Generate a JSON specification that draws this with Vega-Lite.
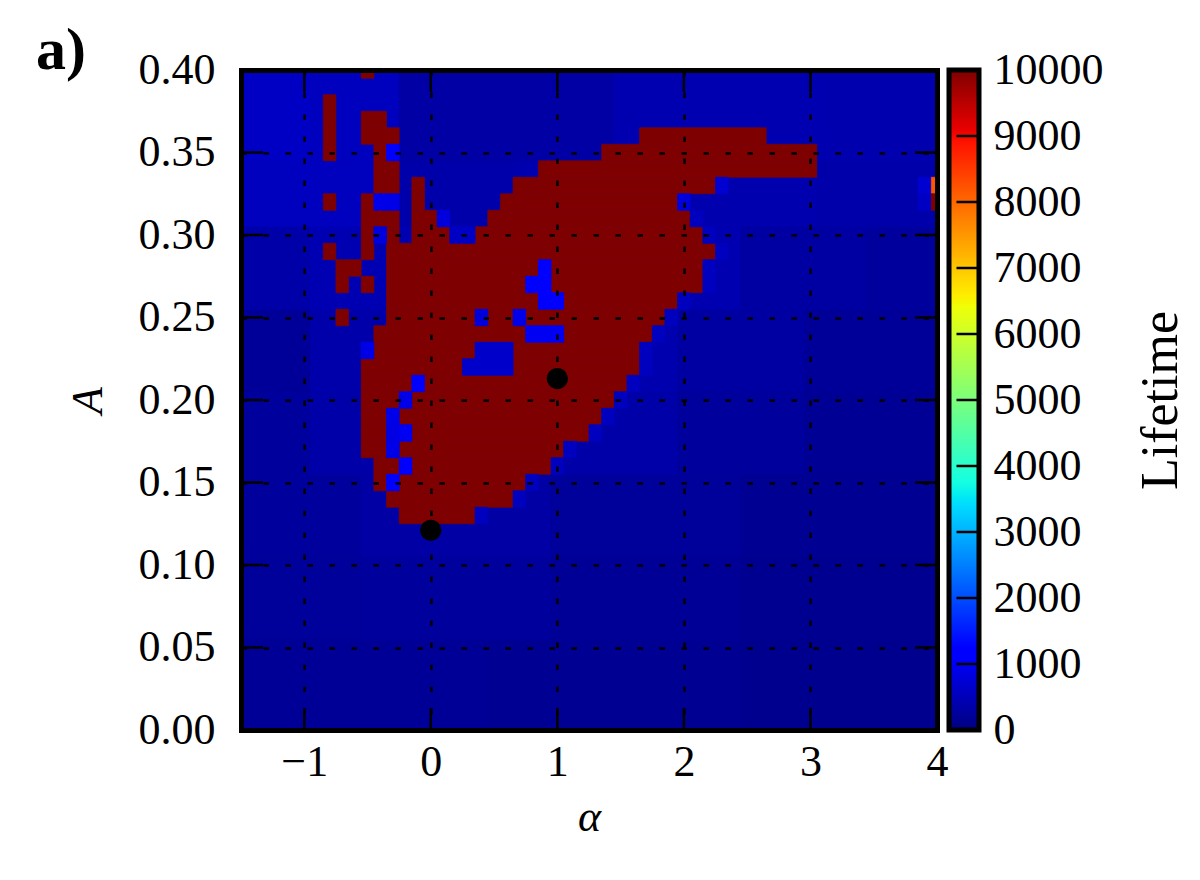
{
  "$schema": "https://vega.github.io/schema/vega-lite/v6.json",
  "background": "white",
  "padding": {"left": 36, "top": 21, "right": 0, "bottom": 0},
  "config": {
    "font": "Liberation Serif",
    "view": {"stroke": null},
    "axis": {"labelFont": "Liberation Serif", "titleFont": "Liberation Serif", "labelColor": "black", "titleColor": "black", "labelFlush": false, "labelOverlap": false, "titleFontWeight": "normal"}
  },
  "title": {"text": "a)", "anchor": "start", "frame": "bounds", "orient": "top", "baseline": "alphabetic", "fontSize": 60, "fontWeight": "bold", "font": "Liberation Serif", "color": "black", "offset": -60, "dx": -30, "dy": 21},
  "datasets": {
    "bg": [
      {"a0": -1.5, "a1": 4, "A0": 0, "A1": 0.4, "v": 250},
      {"a0": -1.5, "a1": 0.45, "A0": 0, "A1": 0.055, "v": 200},
      {"a0": 0.45, "a1": 2.45, "A0": 0, "A1": 0.055, "v": 170},
      {"a0": 2.45, "a1": 4, "A0": 0, "A1": 0.055, "v": 130},
      {"a0": -1.5, "a1": -0.55, "A0": 0.055, "A1": 0.105, "v": 230},
      {"a0": -0.55, "a1": 0.95, "A0": 0.055, "A1": 0.105, "v": 260},
      {"a0": 0.95, "a1": 2.45, "A0": 0.055, "A1": 0.105, "v": 200},
      {"a0": 2.45, "a1": 4, "A0": 0.055, "A1": 0.105, "v": 150},
      {"a0": -1.5, "a1": -0.55, "A0": 0.105, "A1": 0.155, "v": 260},
      {"a0": -0.55, "a1": 0.95, "A0": 0.105, "A1": 0.155, "v": 330},
      {"a0": 0.95, "a1": 2.45, "A0": 0.105, "A1": 0.155, "v": 230},
      {"a0": 2.45, "a1": 4, "A0": 0.105, "A1": 0.155, "v": 170},
      {"a0": -1.5, "a1": -0.95, "A0": 0.155, "A1": 0.205, "v": 250},
      {"a0": -0.95, "a1": -0.35, "A0": 0.155, "A1": 0.205, "v": 350},
      {"a0": -0.35, "a1": 0.95, "A0": 0.155, "A1": 0.205, "v": 380},
      {"a0": 0.95, "a1": 1.95, "A0": 0.155, "A1": 0.205, "v": 350},
      {"a0": 1.95, "a1": 2.95, "A0": 0.155, "A1": 0.205, "v": 250},
      {"a0": 2.95, "a1": 4, "A0": 0.155, "A1": 0.205, "v": 190},
      {"a0": -1.5, "a1": -0.95, "A0": 0.205, "A1": 0.255, "v": 220},
      {"a0": -0.95, "a1": -0.35, "A0": 0.205, "A1": 0.255, "v": 380},
      {"a0": -0.35, "a1": 1.95, "A0": 0.205, "A1": 0.255, "v": 400},
      {"a0": 1.95, "a1": 2.95, "A0": 0.205, "A1": 0.255, "v": 300},
      {"a0": 2.95, "a1": 4, "A0": 0.205, "A1": 0.255, "v": 220},
      {"a0": -1.5, "a1": -0.95, "A0": 0.255, "A1": 0.305, "v": 350},
      {"a0": -0.95, "a1": -0.35, "A0": 0.255, "A1": 0.305, "v": 450},
      {"a0": -0.35, "a1": 2.45, "A0": 0.255, "A1": 0.305, "v": 420},
      {"a0": 2.45, "a1": 3.45, "A0": 0.255, "A1": 0.305, "v": 300},
      {"a0": 3.45, "a1": 4, "A0": 0.255, "A1": 0.305, "v": 250},
      {"a0": -1.5, "a1": -0.25, "A0": 0.305, "A1": 0.345, "v": 550},
      {"a0": -0.25, "a1": 0.65, "A0": 0.305, "A1": 0.345, "v": 380},
      {"a0": 0.65, "a1": 3.05, "A0": 0.305, "A1": 0.345, "v": 400},
      {"a0": 3.05, "a1": 4, "A0": 0.305, "A1": 0.345, "v": 380},
      {"a0": -1.5, "a1": -0.95, "A0": 0.345, "A1": 0.4, "v": 600},
      {"a0": -0.95, "a1": -0.25, "A0": 0.345, "A1": 0.4, "v": 550},
      {"a0": -0.25, "a1": 1.45, "A0": 0.345, "A1": 0.4, "v": 330},
      {"a0": 1.45, "a1": 3.15, "A0": 0.345, "A1": 0.4, "v": 420},
      {"a0": 3.15, "a1": 4, "A0": 0.345, "A1": 0.4, "v": 400}
    ],
    "cells": [
      {"a0": -0.55, "a1": -0.45, "A0": 0.395, "A1": 0.4, "v": 10000},
      {"a0": -0.85, "a1": -0.75, "A0": 0.375, "A1": 0.385, "v": 10000},
      {"a0": -0.85, "a1": -0.75, "A0": 0.365, "A1": 0.375, "v": 10000},
      {"a0": -0.55, "a1": -0.35, "A0": 0.365, "A1": 0.375, "v": 10000},
      {"a0": -0.85, "a1": -0.75, "A0": 0.355, "A1": 0.365, "v": 10000},
      {"a0": -0.55, "a1": -0.25, "A0": 0.355, "A1": 0.365, "v": 10000},
      {"a0": 1.65, "a1": 2.65, "A0": 0.355, "A1": 0.365, "v": 10000},
      {"a0": -0.85, "a1": -0.75, "A0": 0.345, "A1": 0.355, "v": 10000},
      {"a0": -0.45, "a1": -0.35, "A0": 0.345, "A1": 0.355, "v": 10000},
      {"a0": 1.35, "a1": 3.05, "A0": 0.345, "A1": 0.355, "v": 10000},
      {"a0": -0.45, "a1": -0.25, "A0": 0.335, "A1": 0.345, "v": 10000},
      {"a0": 0.85, "a1": 3.05, "A0": 0.335, "A1": 0.345, "v": 10000},
      {"a0": -0.45, "a1": -0.25, "A0": 0.325, "A1": 0.335, "v": 10000},
      {"a0": -0.15, "a1": -0.05, "A0": 0.325, "A1": 0.335, "v": 10000},
      {"a0": 0.65, "a1": 2.25, "A0": 0.325, "A1": 0.335, "v": 10000},
      {"a0": 3.95, "a1": 4, "A0": 0.325, "A1": 0.335, "v": 8200},
      {"a0": -0.85, "a1": -0.75, "A0": 0.315, "A1": 0.325, "v": 10000},
      {"a0": -0.55, "a1": -0.45, "A0": 0.315, "A1": 0.325, "v": 10000},
      {"a0": -0.15, "a1": -0.05, "A0": 0.315, "A1": 0.325, "v": 10000},
      {"a0": 0.55, "a1": 1.95, "A0": 0.315, "A1": 0.325, "v": 10000},
      {"a0": 3.95, "a1": 4, "A0": 0.315, "A1": 0.325, "v": 10000},
      {"a0": -0.55, "a1": -0.25, "A0": 0.305, "A1": 0.315, "v": 10000},
      {"a0": -0.15, "a1": 0.05, "A0": 0.305, "A1": 0.315, "v": 10000},
      {"a0": 0.45, "a1": 2.05, "A0": 0.305, "A1": 0.315, "v": 10000},
      {"a0": -0.55, "a1": -0.45, "A0": 0.295, "A1": 0.305, "v": 10000},
      {"a0": -0.35, "a1": -0.25, "A0": 0.295, "A1": 0.305, "v": 10000},
      {"a0": -0.15, "a1": 0.15, "A0": 0.295, "A1": 0.305, "v": 10000},
      {"a0": 0.35, "a1": 2.15, "A0": 0.295, "A1": 0.305, "v": 10000},
      {"a0": -0.85, "a1": -0.75, "A0": 0.285, "A1": 0.295, "v": 10000},
      {"a0": -0.55, "a1": -0.45, "A0": 0.285, "A1": 0.295, "v": 10000},
      {"a0": -0.35, "a1": 2.25, "A0": 0.285, "A1": 0.295, "v": 10000},
      {"a0": -0.75, "a1": -0.55, "A0": 0.275, "A1": 0.285, "v": 10000},
      {"a0": -0.35, "a1": 0.85, "A0": 0.275, "A1": 0.285, "v": 10000},
      {"a0": 0.95, "a1": 2.15, "A0": 0.275, "A1": 0.285, "v": 10000},
      {"a0": -0.75, "a1": -0.65, "A0": 0.265, "A1": 0.275, "v": 10000},
      {"a0": -0.55, "a1": -0.45, "A0": 0.265, "A1": 0.275, "v": 10000},
      {"a0": -0.35, "a1": 0.75, "A0": 0.265, "A1": 0.275, "v": 10000},
      {"a0": 0.95, "a1": 2.15, "A0": 0.265, "A1": 0.275, "v": 10000},
      {"a0": -0.35, "a1": 0.85, "A0": 0.255, "A1": 0.265, "v": 10000},
      {"a0": 1.05, "a1": 1.95, "A0": 0.255, "A1": 0.265, "v": 10000},
      {"a0": -0.75, "a1": -0.65, "A0": 0.245, "A1": 0.255, "v": 10000},
      {"a0": -0.35, "a1": 0.35, "A0": 0.245, "A1": 0.255, "v": 10000},
      {"a0": 0.45, "a1": 0.65, "A0": 0.245, "A1": 0.255, "v": 10000},
      {"a0": 0.75, "a1": 1.85, "A0": 0.245, "A1": 0.255, "v": 10000},
      {"a0": -0.45, "a1": 0.75, "A0": 0.235, "A1": 0.245, "v": 10000},
      {"a0": 1.05, "a1": 1.75, "A0": 0.235, "A1": 0.245, "v": 10000},
      {"a0": -0.45, "a1": 0.35, "A0": 0.225, "A1": 0.235, "v": 10000},
      {"a0": 0.65, "a1": 1.65, "A0": 0.225, "A1": 0.235, "v": 10000},
      {"a0": -0.55, "a1": 0.25, "A0": 0.215, "A1": 0.225, "v": 10000},
      {"a0": 0.65, "a1": 1.65, "A0": 0.215, "A1": 0.225, "v": 10000},
      {"a0": -0.55, "a1": -0.15, "A0": 0.205, "A1": 0.215, "v": 10000},
      {"a0": -0.05, "a1": 1.55, "A0": 0.205, "A1": 0.215, "v": 10000},
      {"a0": -0.55, "a1": -0.25, "A0": 0.195, "A1": 0.205, "v": 10000},
      {"a0": -0.15, "a1": 1.45, "A0": 0.195, "A1": 0.205, "v": 10000},
      {"a0": -0.55, "a1": -0.35, "A0": 0.185, "A1": 0.195, "v": 10000},
      {"a0": -0.25, "a1": 1.35, "A0": 0.185, "A1": 0.195, "v": 10000},
      {"a0": -0.55, "a1": -0.35, "A0": 0.175, "A1": 0.185, "v": 10000},
      {"a0": -0.15, "a1": 1.25, "A0": 0.175, "A1": 0.185, "v": 10000},
      {"a0": -0.55, "a1": -0.35, "A0": 0.165, "A1": 0.175, "v": 10000},
      {"a0": -0.25, "a1": 1.05, "A0": 0.165, "A1": 0.175, "v": 10000},
      {"a0": -0.45, "a1": -0.25, "A0": 0.155, "A1": 0.165, "v": 10000},
      {"a0": -0.15, "a1": 0.95, "A0": 0.155, "A1": 0.165, "v": 10000},
      {"a0": -0.45, "a1": -0.35, "A0": 0.145, "A1": 0.155, "v": 10000},
      {"a0": -0.25, "a1": 0.75, "A0": 0.145, "A1": 0.155, "v": 10000},
      {"a0": -0.35, "a1": 0.65, "A0": 0.135, "A1": 0.145, "v": 10000},
      {"a0": -0.25, "a1": 0.35, "A0": 0.125, "A1": 0.135, "v": 10000},
      {"a0": -0.35, "a1": -0.25, "A0": 0.345, "A1": 0.355, "v": 1100},
      {"a0": -0.45, "a1": -0.25, "A0": 0.315, "A1": 0.325, "v": 900},
      {"a0": 0.05, "a1": 0.15, "A0": 0.305, "A1": 0.315, "v": 800},
      {"a0": -0.45, "a1": -0.35, "A0": 0.295, "A1": 0.305, "v": 800},
      {"a0": 0.15, "a1": 0.35, "A0": 0.295, "A1": 0.305, "v": 600},
      {"a0": 0.85, "a1": 0.95, "A0": 0.275, "A1": 0.285, "v": 1100},
      {"a0": 0.75, "a1": 0.95, "A0": 0.265, "A1": 0.275, "v": 1100},
      {"a0": 0.85, "a1": 1.05, "A0": 0.255, "A1": 0.265, "v": 1100},
      {"a0": 0.35, "a1": 0.45, "A0": 0.245, "A1": 0.255, "v": 800},
      {"a0": 0.65, "a1": 0.75, "A0": 0.245, "A1": 0.255, "v": 900},
      {"a0": 0.75, "a1": 1.05, "A0": 0.235, "A1": 0.245, "v": 1000},
      {"a0": 0.35, "a1": 0.65, "A0": 0.225, "A1": 0.235, "v": 650},
      {"a0": -0.55, "a1": -0.45, "A0": 0.225, "A1": 0.235, "v": 900},
      {"a0": 0.25, "a1": 0.65, "A0": 0.215, "A1": 0.225, "v": 650},
      {"a0": -0.15, "a1": -0.05, "A0": 0.205, "A1": 0.215, "v": 1100},
      {"a0": -0.25, "a1": -0.15, "A0": 0.195, "A1": 0.205, "v": 900},
      {"a0": -0.35, "a1": -0.25, "A0": 0.185, "A1": 0.195, "v": 900},
      {"a0": -0.35, "a1": -0.25, "A0": 0.175, "A1": 0.185, "v": 850},
      {"a0": -0.25, "a1": -0.15, "A0": 0.175, "A1": 0.185, "v": 1000},
      {"a0": -0.35, "a1": -0.25, "A0": 0.165, "A1": 0.175, "v": 900},
      {"a0": -0.25, "a1": -0.15, "A0": 0.155, "A1": 0.165, "v": 1100},
      {"a0": -0.35, "a1": -0.25, "A0": 0.145, "A1": 0.155, "v": 1100},
      {"a0": 3.85, "a1": 3.95, "A0": 0.325, "A1": 0.335, "v": 700},
      {"a0": 3.85, "a1": 3.95, "A0": 0.315, "A1": 0.325, "v": 600},
      {"a0": 2.25, "a1": 2.35, "A0": 0.325, "A1": 0.335, "v": 700},
      {"a0": 1.95, "a1": 2.05, "A0": 0.315, "A1": 0.325, "v": 800},
      {"a0": 0.35, "a1": 0.45, "A0": 0.125, "A1": 0.135, "v": 550},
      {"a0": 0.65, "a1": 0.75, "A0": 0.135, "A1": 0.145, "v": 550},
      {"a0": 0.75, "a1": 0.85, "A0": 0.145, "A1": 0.155, "v": 550},
      {"a0": 0.95, "a1": 1.05, "A0": 0.155, "A1": 0.165, "v": 550},
      {"a0": 1.05, "a1": 1.15, "A0": 0.165, "A1": 0.175, "v": 550},
      {"a0": 1.25, "a1": 1.35, "A0": 0.175, "A1": 0.185, "v": 550},
      {"a0": 1.35, "a1": 1.45, "A0": 0.185, "A1": 0.195, "v": 550},
      {"a0": 1.45, "a1": 1.55, "A0": 0.195, "A1": 0.205, "v": 550},
      {"a0": 1.55, "a1": 1.65, "A0": 0.205, "A1": 0.215, "v": 550},
      {"a0": 1.65, "a1": 1.75, "A0": 0.215, "A1": 0.225, "v": 550},
      {"a0": 1.65, "a1": 1.75, "A0": 0.225, "A1": 0.235, "v": 550},
      {"a0": 1.75, "a1": 1.85, "A0": 0.235, "A1": 0.245, "v": 550},
      {"a0": 1.85, "a1": 1.95, "A0": 0.245, "A1": 0.255, "v": 550},
      {"a0": 1.95, "a1": 2.05, "A0": 0.255, "A1": 0.265, "v": 550},
      {"a0": 2.15, "a1": 2.25, "A0": 0.265, "A1": 0.275, "v": 550},
      {"a0": 2.15, "a1": 2.25, "A0": 0.275, "A1": 0.285, "v": 550},
      {"a0": 2.25, "a1": 2.35, "A0": 0.285, "A1": 0.295, "v": 550},
      {"a0": 2.15, "a1": 2.25, "A0": 0.295, "A1": 0.305, "v": 550},
      {"a0": 2.05, "a1": 2.15, "A0": 0.305, "A1": 0.315, "v": 550}
    ],
    "pts": [
      {"a": 0.0, "A": 0.121},
      {"a": 1.0, "A": 0.213}
    ],
    "xt": [{"t": -1}, {"t": 0}, {"t": 1}, {"t": 2}, {"t": 3}],
    "yt": [{"t": 0.05}, {"t": 0.1}, {"t": 0.15}, {"t": 0.2}, {"t": 0.25}, {"t": 0.3}, {"t": 0.35}],
    "cbt": [{"t": 1000}, {"t": 2000}, {"t": 3000}, {"t": 4000}, {"t": 5000}, {"t": 6000}, {"t": 7000}, {"t": 8000}, {"t": 9000}],
    "cb": [
      {"x0": 0, "x1": 1, "lo": 0, "hi": 10000}
    ]
  },
  "spacing": -2,
  "hconcat": [
    {
      "width": 696,
      "height": 660,
      "layer": [
        {
          "data": {"name": "bg"},
          "mark": {"type": "rect", "strokeWidth": 0.7},
          "encoding": {
            "x": {"field": "a0", "type": "quantitative", "scale": {"domain": [-1.5, 4], "nice": false, "zero": false},
                  "axis": {"orient": "bottom", "values": [-1, 0, 1, 2, 3, 4], "format": "d", "labelFontSize": 44, "labelPadding": 10, "ticks": false, "tickSize": 0, "grid": true, "gridColor": "black", "gridDash": [5.5, 16.5], "gridWidth": 2.5, "gridOpacity": 1, "domain": true, "domainColor": "black", "domainWidth": 5, "domainCap": "square", "title": "α", "titleFontSize": 44, "titleFontStyle": "italic", "titlePadding": 11, "zindex": 1}},
            "x2": {"field": "a1"},
            "y": {"field": "A0", "type": "quantitative", "scale": {"domain": [0, 0.4], "nice": false, "zero": false},
                  "axis": {"orient": "left", "values": [0, 0.05, 0.1, 0.15, 0.2, 0.25, 0.3, 0.35, 0.4], "format": ".2f", "labelFontSize": 44, "labelPadding": 26, "ticks": false, "tickSize": 0, "grid": true, "gridColor": "black", "gridDash": [5.5, 16.5], "gridWidth": 2.5, "gridOpacity": 1, "domain": true, "domainColor": "black", "domainWidth": 5, "domainCap": "square", "title": "A", "titleFontSize": 44, "titleFontStyle": "italic", "titlePadding": 28, "zindex": 1}},
            "y2": {"field": "A1"},
            "color": {"field": "v", "type": "quantitative", "legend": null,
                      "scale": {"domain": [0, 1100, 1250, 3400, 3500, 3750, 6400, 6500, 6600, 8900, 9100, 10000],
                                "range": ["#00007f", "#0000ff", "#0000ff", "#00dbff", "#00e5f7", "#14ffe2", "#eeff08", "#f7f500", "#ffec00", "#ff1300", "#e80000", "#7f0000"],
                                "interpolate": "rgb"}},
            "stroke": {"field": "v", "type": "quantitative", "legend": null,
                      "scale": {"domain": [0, 1100, 1250, 3400, 3500, 3750, 6400, 6500, 6600, 8900, 9100, 10000],
                                "range": ["#00007f", "#0000ff", "#0000ff", "#00dbff", "#00e5f7", "#14ffe2", "#eeff08", "#f7f500", "#ffec00", "#ff1300", "#e80000", "#7f0000"],
                                "interpolate": "rgb"}}
          }
        },
        {
          "data": {"name": "cells"},
          "mark": {"type": "rect", "strokeWidth": 0.7},
          "encoding": {
            "x": {"field": "a0", "type": "quantitative",
                  "axis": {"orient": "top", "values": [-1, 0, 1, 2, 3, 4], "labels": false, "ticks": false, "grid": false, "domain": true, "domainColor": "black", "domainWidth": 5, "domainCap": "square", "title": null, "zindex": 1}},
            "x2": {"field": "a1"},
            "y": {"field": "A0", "type": "quantitative",
                  "axis": {"orient": "right", "values": [0, 0.05, 0.1, 0.15, 0.2, 0.25, 0.3, 0.35, 0.4], "labels": false, "ticks": false, "grid": false, "domain": true, "domainColor": "black", "domainWidth": 5, "domainCap": "square", "title": null, "zindex": 1}},
            "y2": {"field": "A1"},
            "color": {"field": "v", "type": "quantitative", "legend": null},
            "stroke": {"field": "v", "type": "quantitative", "legend": null}
          }
        },
        {
          "data": {"name": "xt"},
          "mark": {"type": "rule", "color": "black", "strokeWidth": 2.5},
          "encoding": {
            "x": {"field": "t", "type": "quantitative", "axis": null},
            "y": {"datum": 0, "type": "quantitative", "axis": null},
            "y2": {"datum": 0.0133}
          }
        },
        {
          "data": {"name": "xt"},
          "mark": {"type": "rule", "color": "black", "strokeWidth": 2.5},
          "encoding": {
            "x": {"field": "t", "type": "quantitative", "axis": null},
            "y": {"datum": 0.4, "type": "quantitative", "axis": null},
            "y2": {"datum": 0.3867}
          }
        },
        {
          "data": {"name": "yt"},
          "mark": {"type": "rule", "color": "black", "strokeWidth": 2.5},
          "encoding": {
            "y": {"field": "t", "type": "quantitative", "axis": null},
            "x": {"datum": -1.5, "type": "quantitative", "axis": null},
            "x2": {"datum": -1.326}
          }
        },
        {
          "data": {"name": "yt"},
          "mark": {"type": "rule", "color": "black", "strokeWidth": 2.5},
          "encoding": {
            "y": {"field": "t", "type": "quantitative", "axis": null},
            "x": {"datum": 4, "type": "quantitative", "axis": null},
            "x2": {"datum": 3.826}
          }
        },
        {
          "data": {"name": "pts"},
          "mark": {"type": "point", "shape": "circle", "filled": true, "color": "black", "opacity": 1, "size": 450},
          "encoding": {
            "x": {"field": "a", "type": "quantitative", "axis": null},
            "y": {"field": "A", "type": "quantitative", "axis": null}
          }
        }
      ],
      "resolve": {"axis": {"x": "independent", "y": "independent"}}
    },
    {
      "width": 30,
      "height": 660,
      "layer": [
        {
          "data": {"name": "cb"},
          "mark": {"type": "rect", "stroke": "black", "strokeWidth": 5,
                   "color": {"gradient": "linear", "x1": 0, "y1": 1, "x2": 0, "y2": 0,
                             "stops": [
                               {"offset": 0, "color": "#00007f"},
                               {"offset": 0.11, "color": "#0000ff"},
                               {"offset": 0.125, "color": "#0000ff"},
                               {"offset": 0.34, "color": "#00dbff"},
                               {"offset": 0.35, "color": "#00e5f7"},
                               {"offset": 0.375, "color": "#14ffe2"},
                               {"offset": 0.64, "color": "#eeff08"},
                               {"offset": 0.65, "color": "#f7f500"},
                               {"offset": 0.66, "color": "#ffec00"},
                               {"offset": 0.89, "color": "#ff1300"},
                               {"offset": 0.91, "color": "#e80000"},
                               {"offset": 1, "color": "#7f0000"}
                             ]}},
          "encoding": {
            "x": {"field": "x0", "type": "quantitative", "scale": {"domain": [0, 1], "nice": false}, "axis": null},
            "x2": {"field": "x1"},
            "y": {"field": "lo", "type": "quantitative", "scale": {"domain": [0, 10000], "nice": false},
                  "axis": {"orient": "right", "values": [0, 1000, 2000, 3000, 4000, 5000, 6000, 7000, 8000, 9000, 10000], "format": "d", "labelFontSize": 44, "labelPadding": 14, "ticks": false, "tickSize": 0, "grid": false, "domain": false, "title": "Lifetime", "titleFontSize": 52, "titleAngle": 270, "titlePadding": 84, "zindex": 1}},
            "y2": {"field": "hi"}
          }
        },
        {
          "data": {"name": "cbt"},
          "mark": {"type": "rule", "color": "black", "strokeWidth": 2.5},
          "encoding": {
            "y": {"field": "t", "type": "quantitative"},
            "x": {"datum": 0.25, "type": "quantitative"},
            "x2": {"datum": 1}
          }
        }
      ]
    }
  ]
}
